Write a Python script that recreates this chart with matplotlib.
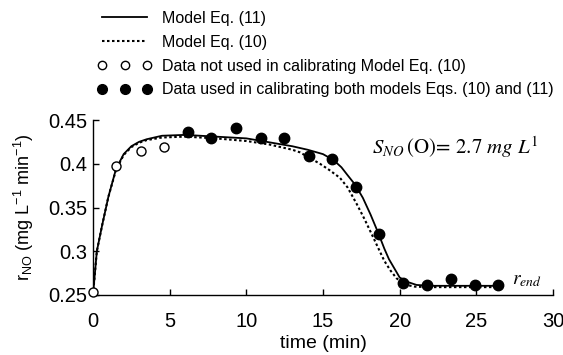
import matplotlib
matplotlib.use("Agg")
import matplotlib.pyplot as plt
from matplotlib.lines import Line2D

plt.rcParams['font.family'] = ['Liberation Sans', 'DejaVu Sans']
plt.rcParams['mathtext.fontset'] = 'custom'
plt.rcParams['mathtext.rm'] = 'Liberation Sans'
plt.rcParams['mathtext.it'] = 'Liberation Sans:italic'

# Data
open_t = [0.0, 1.48, 3.11, 4.63]
open_y = [0.253, 0.398, 0.415, 0.419]
filled_t = [6.18, 7.70, 9.33, 10.96, 12.48, 14.09, 15.61, 17.18, 18.66, 20.24, 21.8, 23.32, 24.9, 26.4]
filled_y = [0.436, 0.430, 0.441, 0.430, 0.430, 0.409, 0.406, 0.374, 0.320, 0.264, 0.261, 0.268, 0.262, 0.261]

solid_t = [0, 0.25, 0.6, 1.0, 1.5, 2.0, 2.5, 3.0, 3.5, 4.5, 6, 8, 10, 11.5, 13, 14, 15, 15.7, 16.2,
           16.6, 17.1, 17.6, 18.1, 18.6, 19.0, 19.3, 19.7, 20.0, 20.5, 21.1, 22, 26.5]
solid_y = [0.25, 0.30, 0.33, 0.362, 0.394, 0.411, 0.420, 0.425, 0.428, 0.432, 0.433, 0.431, 0.429,
           0.4245, 0.420, 0.416, 0.411, 0.404, 0.396, 0.387, 0.376, 0.361, 0.342, 0.321, 0.303,
           0.291, 0.279, 0.270, 0.265, 0.2615, 0.2605, 0.2605]

dotted_t = [0, 0.25, 0.6, 1.0, 1.5, 2.0, 2.5, 3.0, 3.5, 4.5, 6, 8, 10, 11.5, 13, 13.5, 14.8, 15.4,
            16.1, 16.6, 17.2, 17.7, 18.3, 18.7, 19.0, 19.4, 19.8, 20.45, 21, 22, 26.5]
dotted_y = [0.25, 0.30, 0.33, 0.362, 0.393, 0.410, 0.419, 0.424, 0.427, 0.430, 0.431, 0.429, 0.426,
            0.422, 0.416, 0.413, 0.400, 0.393, 0.384, 0.373, 0.354, 0.337, 0.315, 0.300, 0.289,
            0.278, 0.269, 0.2615, 0.2595, 0.259, 0.259]

x_ticks = [0, 5, 10, 15, 20, 25, 30]
y_ticks = [0.25, 0.3, 0.35, 0.4, 0.45]
y_ticklabels = ['0.25', '0.3', '0.35', '0.4', '0.45']

fig = plt.figure(figsize=(5.63, 3.55), dpi=100)
ax = fig.add_axes([93/563, 1-295/355, (553-93)/563, (295-120)/355])

ax.plot(solid_t, solid_y, color='black', lw=1.3, linestyle='-', zorder=3)
ax.plot(dotted_t, dotted_y, color='black', lw=1.5, linestyle=(0, (1.2, 1.2)), zorder=3)
ax.plot(open_t, open_y, linestyle='none', marker='o', markersize=6.5, markerfacecolor='white',
        markeredgecolor='black', markeredgewidth=1.0, clip_on=False, zorder=4)
ax.plot(filled_t, filled_y, linestyle='none', marker='o', markersize=7.5, color='black',
        clip_on=False, zorder=4)

ax.set_xlim(0, 30)
ax.set_ylim(0.25, 0.45)
ax.set_xticks(x_ticks)
ax.set_xticklabels([str(v) for v in x_ticks])
ax.set_yticks(y_ticks)
ax.set_yticklabels(y_ticklabels)
ax.spines['top'].set_visible(False)
ax.spines['right'].set_visible(False)
ax.tick_params(direction='in', length=4, width=1, labelsize=14.5)
ax.tick_params(axis='x', pad=12)
ax.tick_params(axis='y', pad=4)
for s in ['left', 'bottom']:
    ax.spines[s].set_linewidth(1.0)

ax.set_xlabel('time (min)', fontsize=14, labelpad=3)
ax.set_ylabel(r'r$_{\mathrm{NO}}$ (mg L$^{\mathrm{-1}}$ min$^{\mathrm{-1}}$)', fontsize=13, labelpad=9)

ax.text(18.2, 0.4113, r'$S_{NO}\,\mathrm{(O)}\!=\,\mathrm{2.7}\ mg\ L^{\mathrm{1}}$',
        fontsize=15, math_fontfamily='stix', ha='left', va='baseline')
ax.text(27.3, 0.2625, r'$r_{end}$', fontsize=14, math_fontfamily='stix', ha='left', va='baseline')

handles = [
    Line2D([], [], color='black', lw=1.3, linestyle='-'),
    Line2D([], [], color='black', lw=1.5, linestyle=(0, (1.2, 1.2))),
    Line2D([], [], linestyle='none', marker='o', markersize=6, markerfacecolor='white',
           markeredgecolor='black', markeredgewidth=1.0),
    Line2D([], [], linestyle='none', marker='o', markersize=7, color='black'),
]
labels = ['Model Eq. (11)', 'Model Eq. (10)', 'Data not used in calibrating Model Eq. (10)',
          'Data used in calibrating both models Eqs. (10) and (11)']
fig.legend(handles, labels, loc='upper left', bbox_to_anchor=(97/563, 1-11/355), frameon=False,
           fontsize=11.5, numpoints=3, handlelength=3.45, handletextpad=0.6, labelspacing=0.55,
           borderpad=0, borderaxespad=0)

fig.savefig('out.png', dpi=100)
